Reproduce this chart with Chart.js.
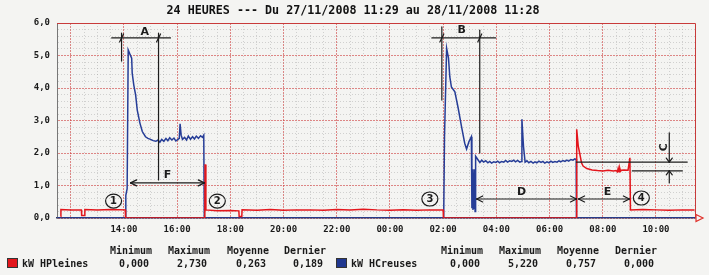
<!DOCTYPE html>
<html>
<head>
<meta charset="utf-8">
<script src="https://cdn.jsdelivr.net/npm/chart.js@4"></script>
<style>
  html, body { margin: 0; padding: 0; background: #f4f4f2; }
</style>
</head>
<body>
<canvas id="myChart" width="709" height="275"></canvas>
<script>
// heures depuis le 27/11 00:00
const titre = '24 HEURES --- Du 27/11/2008 11:29 au 28/11/2008 11:28';
const debut = 11.483;
const fin = 35.467;

const tickHours = [14, 16, 18, 20, 22, 24, 26, 28, 30, 32, 34];
const tickLabels = ['14:00', '16:00', '18:00', '20:00', '22:00', '00:00', '02:00', '04:00', '06:00', '08:00', '10:00'];

const seriesNames = ['kW HPleines', 'kW HCreuses'];
const statNames = ['Minimum', 'Maximum', 'Moyenne', 'Dernier'];
const hpStats = ['0,000', '2,730', '0,263', '0,189'];
const hcStats = ['0,000', '5,220', '0,757', '0,000'];

const hpTimes = [11.62, 11.63, 12.0, 12.4, 12.41, 12.52, 12.53, 13.0, 13.5, 14.05, 14.06,
  17.04, 17.05, 17.08, 17.5, 18.0, 18.32, 18.33, 18.43, 18.44, 19.0, 19.5, 20.0, 20.5,
  21.0, 21.5, 22.0, 22.5, 23.0, 23.5, 24.0, 24.5, 25.0, 25.5, 26.0, 26.01,
  31.0, 31.02, 31.08, 31.13, 31.2, 31.26, 31.4, 31.6, 31.8, 32.0, 32.2, 32.4, 32.5,
  32.55, 32.58, 32.61, 32.64, 32.67, 32.7, 32.8, 32.95, 33.02, 33.04, 33.5, 34.0, 34.5, 35.0, 35.45];
const hpValues = [0.05, 0.26, 0.25, 0.25, 0.08, 0.08, 0.26, 0.25, 0.26, 0.25, 0.0,
  0.0, 1.65, 0.25, 0.22, 0.23, 0.22, 0.05, 0.05, 0.25, 0.24, 0.26, 0.24, 0.25,
  0.25, 0.24, 0.26, 0.25, 0.27, 0.25, 0.24, 0.25, 0.24, 0.25, 0.25, 0.0,
  0.0, 2.73, 2.2, 2.0, 1.7, 1.6, 1.52, 1.48, 1.46, 1.45, 1.47, 1.45, 1.46,
  1.42, 1.53, 1.42, 1.53, 1.44, 1.47, 1.48, 1.47, 1.85, 0.25, 0.26, 0.25, 0.24, 0.25, 0.25];

const hcTimes = [11.48, 14.06, 14.07, 14.12, 14.16, 14.22, 14.29, 14.31, 14.37, 14.44, 14.5,
  14.6, 14.69, 14.81, 14.9, 15.0, 15.1, 15.2, 15.28, 15.35, 15.42, 15.5, 15.58, 15.65,
  15.72, 15.8, 15.88, 15.95, 16.03, 16.08, 16.11, 16.15, 16.2, 16.28, 16.35, 16.42,
  16.5, 16.58, 16.65, 16.72, 16.8, 16.88, 16.95, 17.0, 17.02,
  26.02, 26.05, 26.13, 26.2, 26.25, 26.31, 26.44, 26.56, 26.69, 26.81, 26.88, 26.97,
  27.06, 27.08, 27.1, 27.12, 27.14, 27.16, 27.18, 27.2, 27.22, 27.3, 27.38,
  27.45, 27.52, 27.6, 27.68, 27.75, 27.82, 27.9, 27.98, 28.05, 28.12, 28.2, 28.28,
  28.35, 28.42, 28.5, 28.58, 28.65, 28.72, 28.8, 28.88, 28.94, 28.96, 29.02, 29.08,
  29.15, 29.22, 29.3, 29.38, 29.45, 29.52, 29.6, 29.68, 29.75, 29.82, 29.9, 29.98,
  30.05, 30.12, 30.2, 30.28, 30.35, 30.42, 30.5, 30.58, 30.65, 30.72, 30.8, 30.88,
  30.95, 31.0, 31.01, 35.47];
const hcValues = [0, 0, 0.7, 0.9, 5.17, 5.05, 4.92, 4.46, 4.09, 3.78, 3.32,
  2.92, 2.66, 2.5, 2.45, 2.42, 2.38, 2.36, 2.4, 2.33, 2.42, 2.36, 2.45, 2.38,
  2.47, 2.4, 2.46, 2.37, 2.42, 2.45, 2.9, 2.55, 2.42, 2.48, 2.4, 2.52,
  2.42, 2.5, 2.43, 2.52, 2.45, 2.53, 2.48, 2.55, 0,
  0, 2.5, 5.22, 4.92, 4.34, 4.03, 3.88, 3.4, 2.81, 2.3, 2.12, 2.35,
  2.5, 0.3, 1.5, 0.25, 1.4, 0.3, 1.5, 0.2, 1.9, 1.8, 1.71,
  1.78, 1.72, 1.76, 1.7, 1.74, 1.69, 1.73, 1.71, 1.75, 1.7, 1.74, 1.72,
  1.77, 1.72, 1.76, 1.74, 1.78, 1.73, 1.77, 1.72, 1.74, 3.04, 2.2, 1.72,
  1.76, 1.7, 1.74, 1.69, 1.73, 1.7, 1.75, 1.71, 1.74, 1.69, 1.73, 1.7,
  1.75, 1.71, 1.74, 1.72, 1.76, 1.73, 1.77, 1.74, 1.78, 1.75, 1.8, 1.78,
  1.82, 1.8, 0, 0];

// notes manuscrites (heures, kW)
const notes = {
  lines: [
    [13.54, 5.54, 15.75, 5.54], [13.91, 5.69, 13.91, 4.83], [15.30, 5.69, 15.30, 1.17],
    [25.575, 5.54, 27.975, 5.54], [25.95, 5.88, 25.95, 3.63], [27.375, 5.78, 27.375, 2.0],
    [31.01, 1.72, 35.175, 1.72], [33.11, 1.45, 34.99, 1.45]
  ],
  ticks: [[13.91, 5.54], [15.30, 5.54], [25.95, 5.54], [27.375, 5.54]],
  arrows: [[14.25, 1.08, 17.02, 1.08], [27.26, 0.585, 31.01, 0.585], [31.09, 0.585, 33.0, 0.585]],
  pointers: [[34.5, 2.62, 34.5, 1.72], [34.5, 1.08, 34.5, 1.45]],
  letters: [['A', 14.78, 5.72], ['B', 26.7, 5.78], ['F', 15.64, 1.32], ['D', 28.95, 0.8], ['E', 32.18, 0.8]],
  circles: [['1', 13.61, 0.52], ['2', 17.51, 0.52], ['3', 25.5, 0.585], ['4', 33.45, 0.615]]
};

function points(times, values) {
  return times.map((t, i) => ({x: t, y: values[i]}));
}

function isWhole(v, n) {
  return Math.abs(v / n - Math.round(v / n)) < 1e-6;
}

const paper = {
  id: 'paper',
  beforeDraw(chart) {
    const ctx = chart.ctx;
    ctx.save();
    ctx.fillStyle = '#f4f4f2';
    ctx.fillRect(0, 0, chart.width, chart.height);
    ctx.restore();
  },
  beforeDatasetsDraw(chart) {
    const {ctx, chartArea: a} = chart;
    ctx.save();
    ctx.strokeStyle = '#c83a3a';
    ctx.lineWidth = 1;
    ctx.beginPath();
    ctx.moveTo(a.left, a.top + 0.5);
    ctx.lineTo(a.right + 0.5, a.top + 0.5);
    ctx.lineTo(a.right + 0.5, a.bottom);
    ctx.stroke();
    ctx.restore();
  },
  afterDatasetsDraw(chart) {
    const ctx = chart.ctx;
    const sx = chart.scales.x, sy = chart.scales.y;
    const X = h => sx.getPixelForValue(h);
    const Y = v => sy.getPixelForValue(v);
    ctx.save();
    ctx.strokeStyle = '#1c1c1c';
    ctx.fillStyle = '#1c1c1c';
    ctx.lineWidth = 1.2;
    ctx.lineCap = 'round';
    const seg = (x1, y1, x2, y2) => { ctx.beginPath(); ctx.moveTo(x1, y1); ctx.lineTo(x2, y2); ctx.stroke(); };
    notes.lines.forEach(l => seg(X(l[0]), Y(l[1]), X(l[2]), Y(l[3])));
    notes.ticks.forEach(t => seg(X(t[0]) - 2, Y(t[1]) + 4, X(t[0]) + 2, Y(t[1]) - 4));
    notes.arrows.forEach(a => {
      const x1 = X(a[0]), x2 = X(a[2]), y = Y(a[1]);
      seg(x1, y, x2, y);
      seg(x1, y, x1 + 6, y - 3); seg(x1, y, x1 + 6, y + 3);
      seg(x2, y, x2 - 6, y - 3); seg(x2, y, x2 - 6, y + 3);
    });
    notes.pointers.forEach(p => {
      const x = X(p[0]), y1 = Y(p[1]), y2 = Y(p[3]);
      const d = y2 > y1 ? -4 : 4;
      seg(x, y1, x, y2);
      seg(x, y2, x - 3, y2 + d); seg(x, y2, x + 3, y2 + d);
    });
    ctx.font = 'bold 11px "DejaVu Sans"';
    ctx.textAlign = 'center';
    ctx.textBaseline = 'middle';
    notes.letters.forEach(l => ctx.fillText(l[0], X(l[1]), Y(l[2])));
    ctx.save();
    ctx.translate(X(34.31), Y(2.18));
    ctx.rotate(-Math.PI / 2);
    ctx.fillText('C', 0, 0);
    ctx.restore();
    ctx.font = 'bold 10px "DejaVu Sans"';
    notes.circles.forEach(c => {
      const x = X(c[1]), y = Y(c[2]);
      ctx.beginPath();
      ctx.ellipse(x, y, 8, 7, 0, 0, Math.PI * 2);
      ctx.stroke();
      ctx.fillText(c[0], x, y + 0.5);
    });
    ctx.restore();
  },
  afterDraw(chart) {
    const {ctx, chartArea: a} = chart;
    ctx.save();
    // fleche de l'axe
    ctx.strokeStyle = '#e0302a';
    ctx.lineWidth = 1.2;
    ctx.beginPath();
    ctx.moveTo(a.right + 1, a.bottom - 3.5);
    ctx.lineTo(a.right + 8, a.bottom);
    ctx.lineTo(a.right + 1, a.bottom + 3.5);
    ctx.closePath();
    ctx.stroke();

    // legende et statistiques
    const groups = [
      {name: seriesNames[0], color: '#e3161c', stats: hpStats, box: 7, cols: [131, 189, 248, 305]},
      {name: seriesNames[1], color: '#20378f', stats: hcStats, box: 336, cols: [462, 520, 578, 636]}
    ];
    ctx.font = 'bold 10px "DejaVu Sans Mono"';
    ctx.textBaseline = 'middle';
    groups.forEach(g => {
      ctx.fillStyle = g.color;
      ctx.fillRect(g.box, 258, 10, 9);
      ctx.strokeStyle = '#333';
      ctx.lineWidth = 1;
      ctx.strokeRect(g.box + 0.5, 258.5, 10, 9);
      ctx.fillStyle = '#1a1a1a';
      ctx.textAlign = 'left';
      ctx.fillText(g.name, g.box + 15, 264);
      ctx.textAlign = 'center';
      g.cols.forEach((c, i) => {
        ctx.fillText(statNames[i], c, 251);
        ctx.fillText(g.stats[i], c + 3, 264);
      });
    });

    // titre
    ctx.font = 'bold 11.7px "DejaVu Sans Mono"';
    ctx.textAlign = 'center';
    ctx.fillStyle = '#111';
    ctx.fillText(titre, 353, 11);
    ctx.restore();
  }
};

const halfHours = [];
for (let h = 11.5; h <= 35.0; h += 0.5) halfHours.push(h);
const fifths = [];
for (let k = 0; k <= 30; k++) fifths.push(Math.round(k * 2) / 10);

const redGrid = 'rgba(205,60,60,0.6)';
const grayGrid = 'rgba(150,150,150,0.38)';

const ctx = document.getElementById('myChart');
const myChart = new Chart(ctx, {
  type: 'line',
  data: {
    datasets: [{
      label: seriesNames[0],
      data: points(hpTimes, hpValues),
      borderColor: '#e3161c',
      borderWidth: 1.5,
      pointRadius: 0,
      tension: 0
    }, {
      label: seriesNames[1],
      data: points(hcTimes, hcValues),
      borderColor: '#263d97',
      borderWidth: 1.5,
      pointRadius: 0,
      tension: 0
    }]
  },
  options: {
    responsive: false,
    animation: false,
    devicePixelRatio: 1,
    layout: {padding: {left: 0, right: 14, top: 23, bottom: 0}},
    plugins: {
      legend: {display: false},
      tooltip: {enabled: false}
    },
    scales: {
      x: {
        type: 'linear',
        min: debut,
        max: fin,
        afterBuildTicks: s => { s.ticks = halfHours.map(v => ({value: v})); },
        afterFit: s => { s.height = 57; },
        ticks: {
          autoSkip: false,
          maxRotation: 0,
          padding: 6,
          color: '#1a1a1a',
          font: {family: 'DejaVu Sans Mono', size: 9, weight: 'bold'},
          callback: v => {
            const i = tickHours.indexOf(v);
            return i >= 0 ? tickLabels[i] : '';
          }
        },
        grid: {
          drawTicks: false,
          color: c => (c.tick && isWhole(c.tick.value, 2)) ? redGrid : grayGrid
        },
        border: {
          color: '#2f3562',
          width: 1.5,
          dash: c => (c.tick && isWhole(c.tick.value, 2)) ? [2, 1] : [1, 2]
        }
      },
      y: {
        min: 0,
        max: 6,
        afterBuildTicks: s => { s.ticks = fifths.map(v => ({value: v})); },
        afterFit: s => { s.width = 57; },
        ticks: {
          autoSkip: false,
          padding: 7,
          color: '#1a1a1a',
          font: {family: 'DejaVu Sans Mono', size: 9, weight: 'bold'},
          callback: v => isWhole(v, 1) ? v.toFixed(1).replace('.', ',') : ''
        },
        grid: {
          drawTicks: false,
          color: c => (c.tick && isWhole(c.tick.value, 1)) ? redGrid : grayGrid
        },
        border: {
          color: '#777',
          width: 1,
          dash: c => (c.tick && isWhole(c.tick.value, 1)) ? [2, 1] : [1, 2]
        }
      }
    }
  },
  plugins: [paper]
});
</script>
</body>
</html>
